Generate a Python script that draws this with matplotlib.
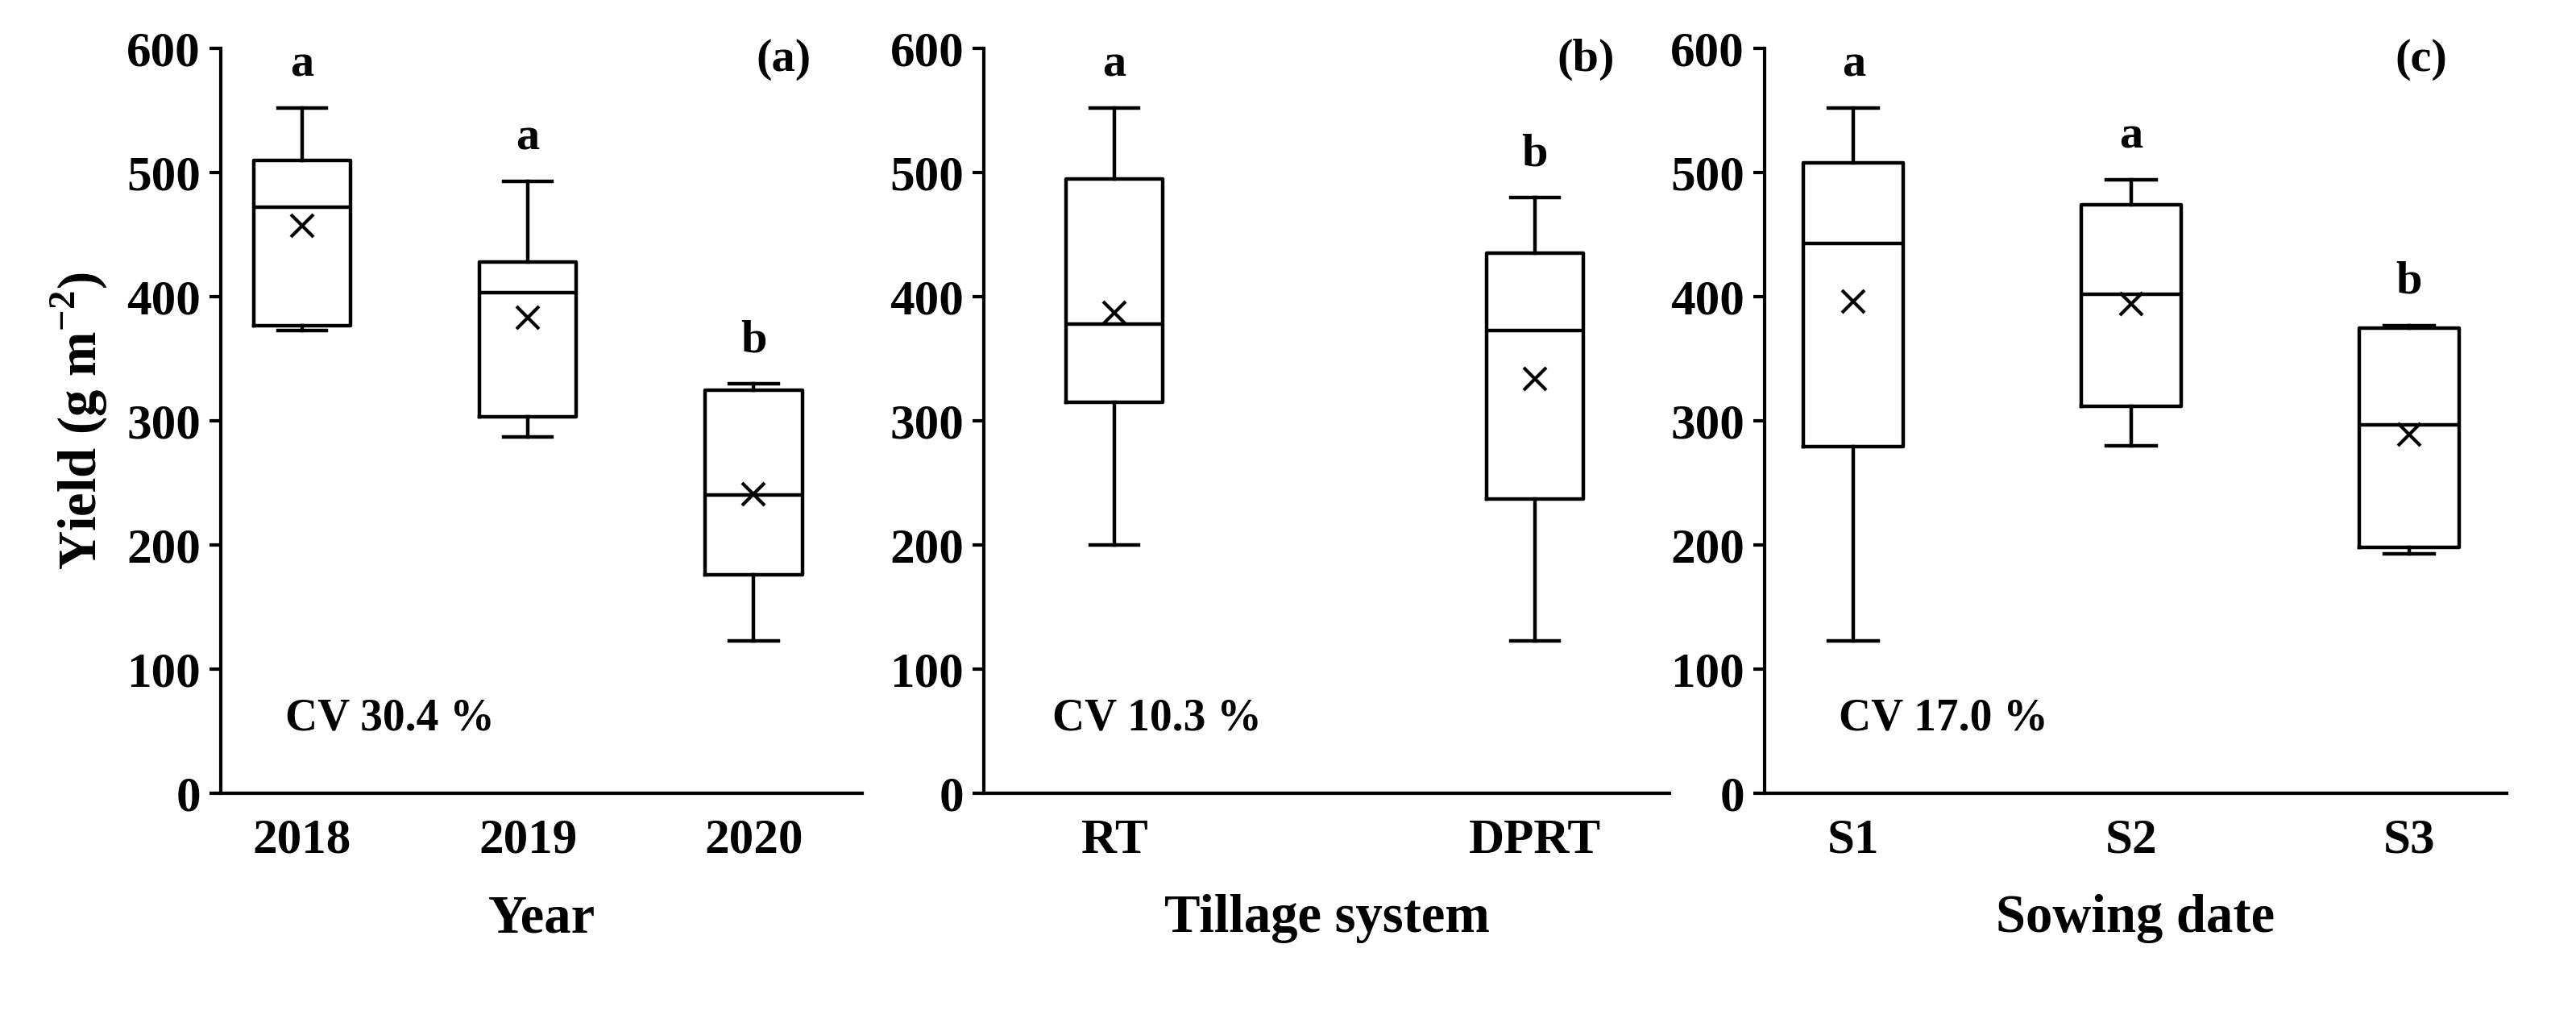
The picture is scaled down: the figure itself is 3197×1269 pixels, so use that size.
import matplotlib
matplotlib.use("Agg")
import matplotlib.pyplot as plt

plt.rcParams['font.family'] = ['Liberation Serif', 'DejaVu Serif']
plt.rcParams['font.weight'] = 'bold'
plt.rcParams['mathtext.fontset'] = 'custom'
plt.rcParams['mathtext.bf'] = 'Liberation Serif:bold'
plt.rcParams['mathtext.rm'] = 'Liberation Serif:bold'

cats_a = ["2018", "2019", "2020"]
stats_a = [[373, 377, 472, 510, 552, 457], [287, 303, 403, 428, 493, 383], [123, 176, 240, 325, 330, 241]]
letters_a = ["a", "a", "b"]
cats_b = ["RT", "DPRT"]
stats_b = [[200, 315, 378, 495, 552, 387], [123, 237, 373, 435, 480, 334]]
letters_b = ["a", "b"]
cats_c = ["S1", "S2", "S3"]
stats_c = [[123, 279, 443, 508, 552, 396], [280, 312, 402, 474, 494, 394], [193, 198, 297, 375, 377, 289]]
letters_c = ["a", "a", "b"]
xlabels = ["Year", "Tillage system", "Sowing date"]
panel_tags = ["(a)", "(b)", "(c)"]
cv_texts = ["CV 30.4 %", "CV 10.3 %", "CV 17.0 %"]

fig = plt.figure(figsize=(31.97, 12.69), dpi=100)
rects = [[0.0857, 0.2246, 0.249, 0.728], [0.382, 0.2246, 0.266, 0.728], [0.685, 0.2246, 0.288, 0.728]]
xlims = [(0.64, 3.48), (0.69, 2.32), (0.68, 3.35)]
widths = [0.43, 0.23, 0.36]
fs = 44
for i, (cats, stats, letters) in enumerate([(cats_a, stats_a, letters_a), (cats_b, stats_b, letters_b), (cats_c, stats_c, letters_c)]):
    ax = fig.add_axes(rects[i])
    bx = [dict(whislo=s[0], q1=s[1], med=s[2], q3=s[3], whishi=s[4], mean=s[5], fliers=[]) for s in stats]
    pos = list(range(1, len(cats) + 1))
    lw = 3.2
    ax.bxp(bx, positions=pos, widths=widths[i], showmeans=True, showcaps=True,
           boxprops=dict(color='black', lw=lw), whiskerprops=dict(color='black', lw=lw),
           capprops=dict(color='black', lw=lw), medianprops=dict(color='black', lw=lw),
           meanprops=dict(marker='x', markeredgecolor='black', markersize=20, markeredgewidth=3))
    for p, s, l in zip(pos, stats, letters):
        ax.text(p, s[4] + 18, l, ha='center', va='bottom', fontsize=fs - 2, fontweight='bold')
    ax.set_xlim(*xlims[i])
    ax.set_ylim(0, 600)
    ax.set_yticks(range(0, 601, 100))
    ax.set_xticks(pos)
    ax.set_xticklabels(cats)
    ax.tick_params(axis='x', length=0, pad=22, labelsize=fs)
    ax.tick_params(axis='y', direction='out', length=10, width=3, labelsize=fs, pad=8)
    for sp in ['top', 'right']:
        ax.spines[sp].set_visible(False)
    for sp in ['left', 'bottom']:
        ax.spines[sp].set_linewidth(3)
    ax.set_xlabel(xlabels[i], fontsize=fs + 4, fontweight='bold', labelpad=28)
    ax.text(0.92, 0.985, panel_tags[i], transform=ax.transAxes, ha='right', va='center', fontsize=fs - 2)
    ax.text(0.1, 60, cv_texts[i], transform=ax.get_yaxis_transform(), ha='left', va='center', fontsize=fs - 4)
    if i == 0:
        ax.set_ylabel("Yield (g m$^{\\mathbf{-2}}$)", fontsize=fs + 4, fontweight='bold', labelpad=15)

fig.savefig("out.png", dpi=100)
